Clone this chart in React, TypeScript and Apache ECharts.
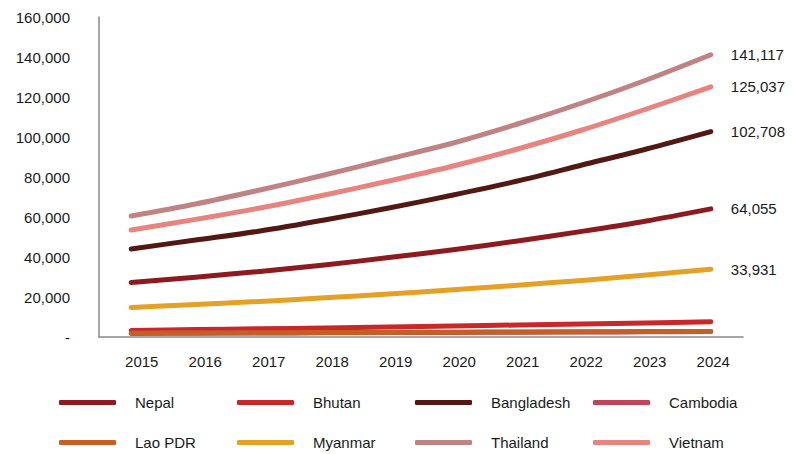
import React, { useEffect, useRef } from "react";
import * as echarts from "echarts";

const years = ["2015", "2016", "2017", "2018", "2019", "2020", "2021", "2022", "2023", "2024"];
const nepal = [27200, 29900, 32800, 36000, 39700, 43600, 48000, 52800, 58000, 64055];
const bhutan = [3300, 3700, 4100, 4500, 5000, 5500, 6000, 6500, 7000, 7600];
const bangladesh = [44000, 48500, 53000, 58500, 64500, 71000, 78000, 86000, 94000, 102708];
const cambodia = [1800, 1900, 2000, 2100, 2200, 2300, 2400, 2500, 2600, 2700];
const laoPDR = [1900, 2000, 2100, 2200, 2300, 2400, 2500, 2600, 2700, 2800];
const myanmar = [14800, 16200, 17800, 19600, 21500, 23600, 25900, 28300, 31000, 33931];
const thailand = [60500, 66500, 73500, 81000, 89000, 97000, 106500, 117000, 128500, 141117];
const vietnam = [53500, 58800, 64500, 71000, 78000, 85500, 94000, 103500, 114000, 125037];

const seriesNames = ["Nepal", "Bhutan", "Bangladesh", "Cambodia", "Lao PDR", "Myanmar", "Thailand", "Vietnam"];
const seriesData = [nepal, bhutan, bangladesh, cambodia, laoPDR, myanmar, thailand, vietnam];
const seriesColors = ["#8c1a1e", "#c8282a", "#511814", "#c0445a", "#c55f28", "#e3a125", "#c08383", "#e8847f"];
const endLabelShown = [true, false, true, false, false, true, true, true];

const FONT = "'Liberation Sans', Arial, Helvetica, sans-serif";
const TEXT = "#1a1a1a";

export default function App() {
  const ref = useRef<HTMLDivElement>(null);
  useEffect(() => {
    if (!ref.current) return;
    const chart = echarts.init(ref.current, undefined, { renderer: "svg" });
    const series = seriesNames.map((name, i) => ({
      name,
      type: "line",
      xAxisIndex: 0,
      yAxisIndex: 0,
      data: seriesData[i],
      symbol: "none",
      smooth: 0.3,
      lineStyle: { width: 5, color: seriesColors[i], cap: "round", join: "round" },
      itemStyle: { color: seriesColors[i] },
      endLabel: {
        show: endLabelShown[i],
        distance: 20,
        formatter: (p: any) => Number(p.value).toLocaleString("en-US"),
        color: TEXT,
        fontSize: 15,
        fontFamily: FONT,
      },
      z: 2,
    }));
    const colX = [54, 232, 410, 588];
    const rowY = [390, 430];
    const legends = seriesNames.map((name, i) => ({
      data: [name],
      left: colX[i % 4],
      top: rowY[Math.floor(i / 4)],
      itemWidth: 57,
      itemHeight: 5,
      icon: "roundRect",
      textStyle: { color: TEXT, fontSize: 15, fontFamily: FONT, padding: [0, 0, 0, 14] },
      selectedMode: false,
    }));
    chart.setOption({
      animation: false,
      color: seriesColors,
      textStyle: { fontFamily: FONT },
      grid: [
        { left: 99, right: 52, top: 17, bottom: 117, containLabel: false },
        { left: 110, right: 50, top: 17, bottom: 117, containLabel: false },
      ],
      legend: legends,
      xAxis: [
        {
          type: "category",
          gridIndex: 0,
          data: years,
          boundaryGap: true,
          axisLine: { lineStyle: { color: "#8a8a8a", width: 1.5 } },
          axisTick: { show: false },
          axisLabel: { show: false },
        },
        {
          type: "category",
          gridIndex: 1,
          data: years,
          boundaryGap: true,
          axisLine: { show: false },
          axisTick: { show: false },
          axisLabel: { color: TEXT, fontSize: 15, fontFamily: FONT, margin: 17 },
        },
      ],
      yAxis: [
        {
          type: "value",
          gridIndex: 0,
          min: 0,
          max: 160000,
          interval: 20000,
          axisLine: { show: true, lineStyle: { color: "#8a8a8a", width: 1.5 } },
          axisTick: { show: false },
          splitLine: { show: false },
          axisLabel: {
            color: TEXT,
            fontSize: 15,
            fontFamily: FONT,
            margin: 29,
            formatter: (v: number) => (v === 0 ? "-" : v.toLocaleString("en-US")),
          },
        },
        {
          type: "value",
          gridIndex: 1,
          min: 0,
          max: 160000,
          interval: 20000,
          show: false,
        },
      ],
      series,
    });
    return () => chart.dispose();
  }, []);
  return <div ref={ref} style={{ width: 795, height: 454, position: "absolute", left: 0, top: 0 }} />;
}
